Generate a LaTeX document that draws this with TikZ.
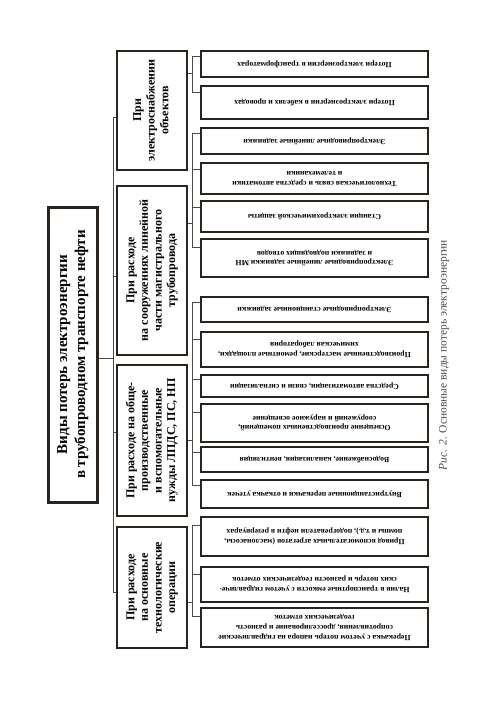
\documentclass[tikz,border=0pt]{standalone}
\usepackage{fontspec}
\setmainfont{Liberation Serif}
\usetikzlibrary{calc}
\definecolor{framec}{HTML}{2B241C}
\definecolor{wirec}{HTML}{4A4A4A}
\definecolor{capc}{HTML}{4A4A4A}
\newcommand{\lft}[1]{\rotatebox{180}{\begin{tabular}{@{}c@{}}#1\end{tabular}}}
\newcommand{\upt}[1]{\rotatebox{90}{\begin{tabular}{@{}c@{}}#1\end{tabular}}}
\tikzset{
  leafbox/.style={draw=framec, line width=1.5pt, fill=white, minimum width=227pt, inner sep=0pt,
    font=\bfseries\fontsize{7.8}{9.6}\selectfont},
  catbox/.style={draw=framec, line width=1.8pt, fill=white, minimum width=70pt, inner sep=0pt,
    font=\bfseries\fontsize{12}{13.6}\selectfont},
  mainbox/.style={draw=framec, line width=3pt, fill=white, minimum width=49pt, minimum height=295pt, inner sep=0pt,
    font=\bfseries\fontsize{15}{18}\selectfont},
  wire/.style={draw=wirec, line width=0.8pt}
}
\begin{document}
\begin{tikzpicture}[x=1pt,y=-1pt]
\useasboundingbox[fill=white] (0,0) rectangle (500,710);

% main box
\node[mainbox] (main) at (72.5,354.5) {\upt{Виды потерь электроэнергии\\в трубопроводном транспорте нефти}};

% category boxes
\node[catbox, minimum height=119pt] (cA) at (152,110.5) {\upt{При\\электроснабжении\\объектов}};
\node[catbox, minimum height=169pt] (cB) at (152,270.5) {\upt{При расходе\\на сооружениях линейной\\части магистрального\\трубопровода}};
\node[catbox, minimum height=151pt] (cC) at (152,440.5) {\upt{При расходе на обще-\\производственные\\и вспомогательные\\нужды ЛПДС, ПС, НП}};
\node[catbox, minimum height=121pt] (cD) at (152,587.5) {\upt{При расходе\\на основные\\технологические\\операции}};

% leaf boxes
\node[leafbox, minimum height=26pt] (l1) at (314.5,64) {\lft{Потери электроэнергии в трансформаторах}};
\node[leafbox, minimum height=33pt] (l2) at (314.5,102.5) {\lft{Потери электроэнергии в кабелях и проводах}};
\node[leafbox, minimum height=26pt] (l3) at (314.5,141) {\lft{Электроприводные линейные задвижки}};
\node[leafbox, minimum height=31pt] (l4) at (314.5,178.5) {\lft{Технологическая связь и средства автоматики\\и телемеханики}};
\node[leafbox, minimum height=31pt] (l5) at (314.5,216.5) {\lft{Станции электрохимической защиты}};
\node[leafbox, minimum height=38pt] (l6) at (314.5,258) {\lft{Электроприводные линейные задвижки МН\\и задвижки подводящих отводов}};
\node[leafbox, minimum height=25pt] (l7) at (314.5,309.5) {\lft{Электроприводные станционные задвижки}};
\node[leafbox, minimum height=35pt] (l8) at (314.5,349.5) {\lft{Производственные мастерские, ремонтные площадки,\\химическая лаборатория}};
\node[leafbox, minimum height=22pt] (l9) at (314.5,386) {\lft{Средства автоматизации, связи и сигнализации}};
\node[leafbox, minimum height=38pt] (l10) at (314.5,423) {\lft{Освещение производственных помещений,\\сооружений и наружное освещение}};
\node[leafbox, minimum height=25pt] (l11) at (314.5,459.5) {\lft{Водоснабжение, канализация, вентиляция}};
\node[leafbox, minimum height=28pt] (l12) at (314.5,494) {\lft{Внутристанционные перекачки и откачка утечек}};
\node[leafbox, minimum height=39pt] (l13) at (314.5,536.5) {\lft{Привод вспомогательных агрегатов (маслонасосы,\\помпы и т.д.), подогреватели нефти в резервуарах}};
\node[leafbox, minimum height=35pt] (l14) at (314.5,584.5) {\lft{Налив в транспортные емкости с учетом гидравличе-\\ских потерь и разности геодезических отметок}};
\node[leafbox, minimum height=39pt] (l15) at (314.5,627.5) {\lft{Перекачка с учетом потерь напора на гидравлические\\сопротивления, дросселирование и разность\\геодезических отметок}};

% caption
\node[rotate=90, text=capc, font=\fontsize{11.5}{13}\selectfont] (cap) at (444,355) {\textit{Рис. 2.} Основные виды потерь электроэнергии};

% left bus
\coordinate (jM) at (113,358);
\coordinate (jA) at (113,117);
\coordinate (jB) at (113,276);
\coordinate (jC) at (113,432);
\coordinate (jD) at (113,592);
\draw[wire] (main.east |- jM) -- (jM);
\draw[wire] (jA) -- (jD);
\draw[wire] (jA) -- (jA -| cA.west);
\draw[wire] (jB) -- (jB -| cB.west);
\draw[wire] (jC) -- (jC -| cC.west);
\draw[wire] (jD) -- (jD -| cD.west);

% leaf stubs
\foreach \i in {1,...,15}{
  \coordinate (s\i) at ($(l\i.north west)!0.22!(l\i.south west)+(-8,0)$);
  \draw[wire] (s\i) -- ++(8,0);
}
% right buses
\draw[wire] (s1) -- (s2);
\draw[wire] (s3) -- (s6);
\draw[wire] (s7) -- (s12);
\draw[wire] (s13) -- (s15);
\coordinate (rA) at (193,73);
\coordinate (rB) at (193,223);
\coordinate (rC) at (193,440);
\coordinate (rD) at (193,602);
\draw[wire] (rA -| cA.east) -- (rA);
\draw[wire] (rB -| cB.east) -- (rB);
\draw[wire] (rC -| cC.east) -- (rC);
\draw[wire] (rD -| cD.east) -- (rD);
\end{tikzpicture}
\end{document}
